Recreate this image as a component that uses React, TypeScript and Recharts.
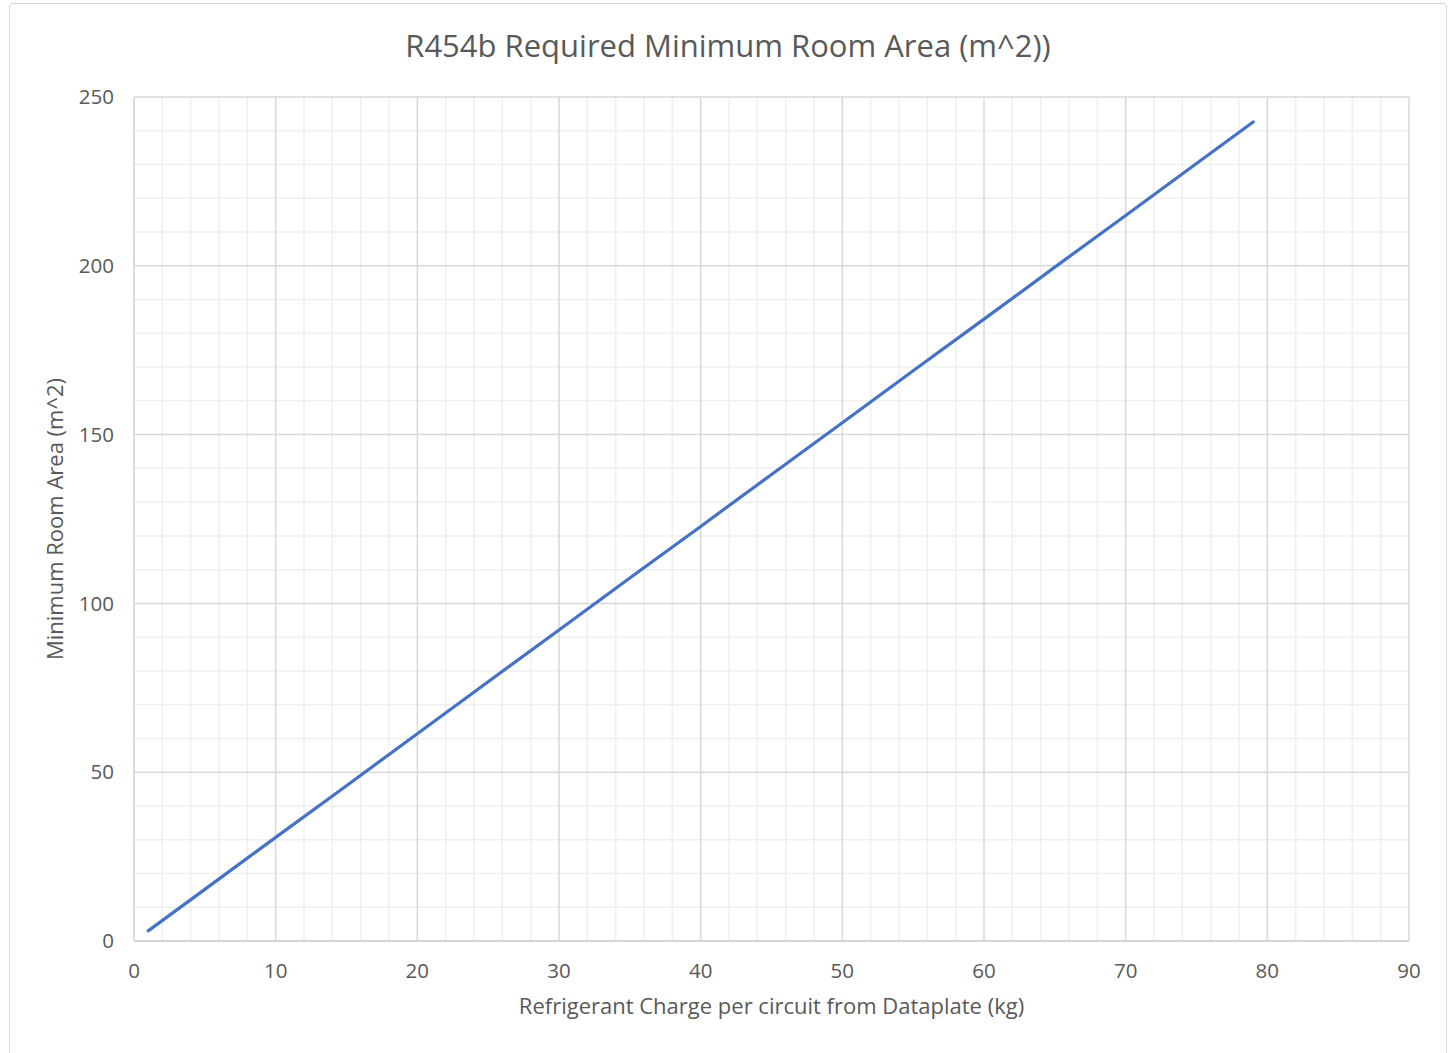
import React from "react";
import { LineChart, Line, XAxis, YAxis, ReferenceLine, Label } from "recharts";

const chargeKg = [1, 5, 10, 15, 20, 25, 30, 35, 40, 45, 50, 55, 60, 65, 70, 75, 79];
const minAreaM2 = [3, 15.3, 30.7, 46, 61.4, 76.8, 92.1, 107.5, 122.8, 138.2, 153.5, 168.9, 184.2, 199.6, 214.9, 230.3, 242.6];

const xMajorTicks = [0, 10, 20, 30, 40, 50, 60, 70, 80, 90];
const yMajorTicks = [0, 50, 100, 150, 200, 250];
const xMinorTicks = [2, 4, 6, 8, 12, 14, 16, 18, 22, 24, 26, 28, 32, 34, 36, 38, 42, 44, 46, 48, 52, 54, 56, 58, 62, 64, 66, 68, 72, 74, 76, 78, 82, 84, 86, 88];
const yMinorTicks = [10, 20, 30, 40, 60, 70, 80, 90, 110, 120, 130, 140, 160, 170, 180, 190, 210, 220, 230, 240];

const title = "R454b Required Minimum Room Area (m^2))";
const xTitle = "Refrigerant Charge per circuit from Dataplate (kg)";
const yTitle = "Minimum Room Area (m^2)";

const data = chargeKg.map((x, i) => ({ x, y: minAreaM2[i] }));

const FONT = "'Open Sans', 'Noto Sans', sans-serif";
const TEXT = "#595959";

export default function App() {
  return (
    <div style={{ position: "absolute", left: 0, top: 0, width: 1452, height: 1053, background: "#fff", overflow: "hidden", fontFamily: FONT }}>
      <div style={{ position: "absolute", left: 9, top: 3, width: 1436, height: 1070, border: "1.5px solid #d9d9d9", borderRadius: 4 }} />
      <div style={{ position: "absolute", left: 0, top: 22, width: 1456, textAlign: "center", fontSize: 31, color: TEXT, lineHeight: "46px" }}>
        {title}
      </div>
      <div style={{ position: "absolute", left: 0, top: 0 }}>
        <LineChart width={1452} height={1053} data={data} margin={{ top: 97, right: 43, bottom: 0, left: 0 }}>
          <XAxis
            type="number"
            dataKey="x"
            domain={[0, 90]}
            ticks={xMajorTicks}
            height={112}
            tickSize={0}
            tickMargin={22}
            axisLine={{ stroke: "#d0d0d0", strokeWidth: 1.5 }}
            tick={{ fill: TEXT, fontSize: 20.5, fontFamily: FONT }}
            interval={0}
          >
            <Label
              content={(props: any) => {
                const vb = props.viewBox;
                return (
                  <text x={vb.x + vb.width / 2} y={vb.y + 67} textAnchor="middle" dominantBaseline="middle" fill={TEXT} fontSize={22} fontFamily={FONT}>
                    {xTitle}
                  </text>
                );
              }}
            />
          </XAxis>
          <YAxis
            type="number"
            domain={[0, 250]}
            ticks={yMajorTicks}
            width={134}
            tickSize={0}
            tickMargin={20}
            axisLine={{ stroke: "#d9d9d9", strokeWidth: 1.5 }}
            tick={{ fill: TEXT, fontSize: 20.5, fontFamily: FONT }}
            interval={0}
          >
            <Label
              content={(props: any) => {
                const vb = props.viewBox;
                const cx = 57;
                const cy = vb.y + vb.height / 2;
                return (
                  <text x={cx} y={cy} textAnchor="middle" dominantBaseline="middle" fill={TEXT} fontSize={22} fontFamily={FONT} transform={`rotate(-90, ${cx}, ${cy})`}>
                    {yTitle}
                  </text>
                );
              }}
            />
          </YAxis>
          {xMinorTicks.map((v) => (
            <ReferenceLine key={"xm" + v} x={v} stroke="#efefef" strokeWidth={1.5} />
          ))}
          {yMinorTicks.map((v) => (
            <ReferenceLine key={"ym" + v} y={v} stroke="#efefef" strokeWidth={1.5} />
          ))}
          {xMajorTicks.map((v) => (
            <ReferenceLine key={"xM" + v} x={v} stroke="#d9d9d9" strokeWidth={1.5} />
          ))}
          {yMajorTicks.map((v) => (
            <ReferenceLine key={"yM" + v} y={v} stroke="#d9d9d9" strokeWidth={1.5} />
          ))}
          <Line
            type="linear"
            dataKey="y"
            stroke="#4472C4"
            strokeWidth={3.2}
            dot={false}
            isAnimationActive={false}
            strokeLinecap="round"
          />
        </LineChart>
      </div>
    </div>
  );
}
